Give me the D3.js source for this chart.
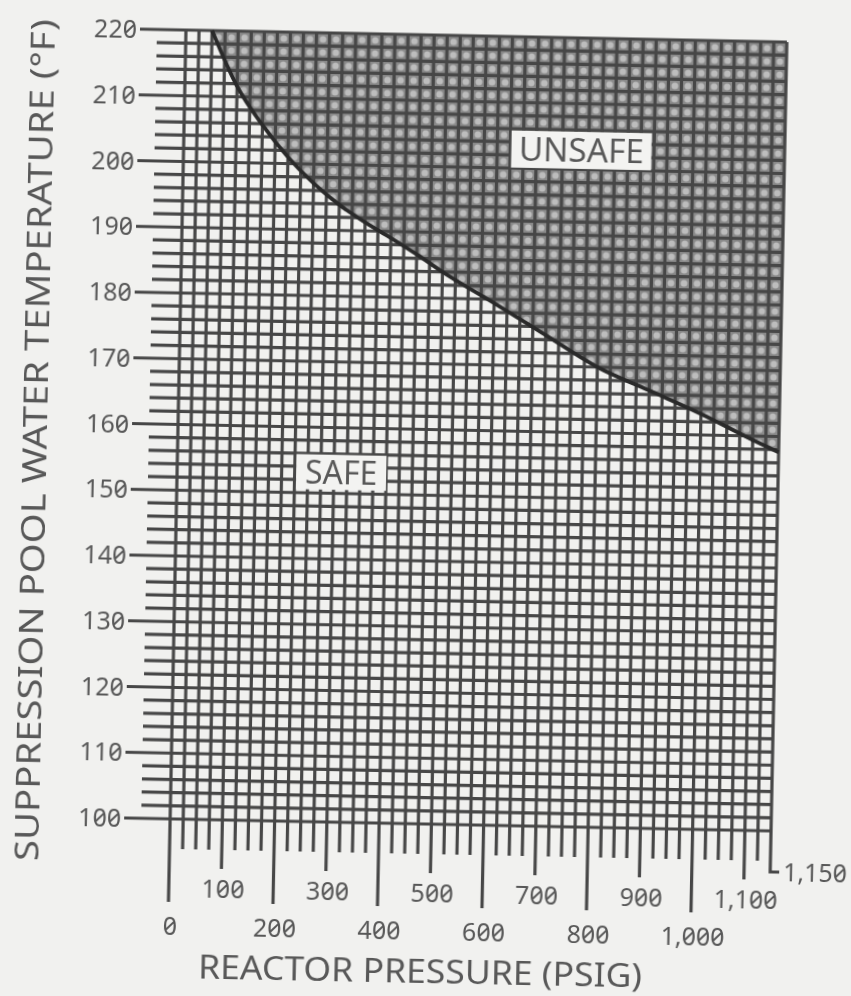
<!DOCTYPE html>
<html>
<head>
<meta charset="utf-8">
<script src="https://cdn.jsdelivr.net/npm/d3@7"></script>
<style>
  html, body { margin: 0; padding: 0; background: #f1f1ef; }
  svg { display: block; }
  text { font-family: "Noto Sans", Inter, sans-serif; font-feature-settings: "zero" 1; fill: #585858; }
</style>
</head>
<body>
<svg id="chart" width="851" height="996"></svg>
<script>
// Axis ticks
const pressureTicks = [0, 100, 200, 300, 400, 500, 600, 700, 800, 900, 1000, 1100];
const pressureEnd = 1150;
const tempTicks = [100, 110, 120, 130, 140, 150, 160, 170, 180, 190, 200, 210, 220];

// Heat capacity temperature limit: reactor pressure (psig) vs pool temperature (°F)
const limitPressure = [50, 100, 150, 200, 250, 300, 350, 400, 450, 500, 600, 700, 800, 900, 1000, 1100, 1150];
const limitTemp = [220, 211.6, 205.8, 201.0, 197.1, 193.9, 191.3, 189.0, 186.6, 184.0, 179.4, 174.7, 170.0, 166.6, 163.2, 159.4, 157.6];

// Region names
const regionNames = ["UNSAFE", "SAFE"];
const xTitle = "REACTOR PRESSURE (PSIG)";
const yTitle = "SUPPRESSION POOL WATER TEMPERATURE (°F)";

// ---- layout ----
const plot = { left: 178, top: 36, width: 601, height: 789 };
const bottom = plot.top + plot.height;
const x = d3.scaleLinear().domain([0, pressureEnd]).range([plot.left, plot.left + plot.width]);
const y = d3.scaleLinear().domain([100, 220]).range([bottom, plot.top]);

const pStep = 25, tStep = 2;
const gridColor = "#464646";
const gridWidth = 3.2;

const svg = d3.select("#chart");
svg.append("rect").attr("width", 851).attr("height", 996).attr("fill", "#f1f1ef");

const defs = svg.append("defs");
defs.append("filter").attr("id", "soft")
  .append("feGaussianBlur").attr("stdDeviation", 0.55);

const cellW = x(pStep) - x(0);
const cellH = y(220 - tStep) - y(220);
const pat = defs.append("pattern")
  .attr("id", "unsafeFill")
  .attr("patternUnits", "userSpaceOnUse")
  .attr("x", plot.left).attr("y", plot.top)
  .attr("width", cellW).attr("height", cellH);
pat.append("rect").attr("width", cellW).attr("height", cellH).attr("fill", "#8a8a8a");
pat.append("circle").attr("cx", cellW / 2).attr("cy", cellH / 2).attr("r", 3.3).attr("fill", "#bdbdbd");

const g = svg.append("g")
  .attr("transform", "rotate(1.15 478.75 430.25)")
  .attr("filter", "url(#soft)");

const limit = limitPressure.map((p, i) => ({ p, t: limitTemp[i] }));

// Unsafe region above the limit curve
const area = d3.area()
  .x(d => x(d.p))
  .y0(y(220))
  .y1(d => y(d.t))
  .curve(d3.curveMonotoneX);
g.append("path").datum(limit).attr("d", area).attr("fill", "url(#unsafeFill)");

// Horizontal grid lines, every 2 °F; the 10 °F lines reach further left
const hLines = d3.range(100, 220 + 0.001, tStep);
g.append("g").selectAll("line").data(hLines).join("line")
  .attr("x1", d => x(0) - (d % 10 === 0 ? 46 : 29))
  .attr("x2", x(pressureEnd))
  .attr("y1", d => y(d)).attr("y2", d => y(d))
  .attr("stroke", gridColor).attr("stroke-width", gridWidth);

// Vertical grid lines, every 25 psig, with ticks hanging below the grid
const vLines = d3.range(0, pressureEnd - 0.001, pStep);
const tickLen = d => (d % 200 === 0 ? 83 : d % 100 === 0 ? 49 : 30);
g.append("g").selectAll("line").data(vLines).join("line")
  .attr("x1", d => x(d)).attr("x2", d => x(d))
  .attr("y1", y(220))
  .attr("y2", d => bottom + tickLen(d))
  .attr("stroke", gridColor).attr("stroke-width", gridWidth);

// Right edge with its hooked end tick
g.append("path")
  .attr("d", `M${x(pressureEnd)},${y(220)}V${bottom + 41}h9`)
  .attr("fill", "none").attr("stroke", gridColor).attr("stroke-width", gridWidth);

// Limit curve
const line = d3.line().x(d => x(d.p)).y(d => y(d.t)).curve(d3.curveMonotoneX);
g.append("path").datum(limit).attr("d", line)
  .attr("fill", "none").attr("stroke", "#2a2a2a").attr("stroke-width", 3.8);

// Temperature labels
const fmt = d3.format(",");
g.append("g").selectAll("text").data(tempTicks).join("text")
  .attr("x", x(0) - 49).attr("y", d => y(d)).attr("dy", "0.36em")
  .attr("text-anchor", "end").attr("font-size", 25)
  .text(d => fmt(d));

// Pressure labels, staggered on two rows
g.append("g").selectAll("text").data(pressureTicks).join("text")
  .attr("x", d => x(d) + 2)
  .attr("y", d => bottom + (d % 200 === 0 ? 116 : 78))
  .attr("text-anchor", "middle").attr("font-size", 25)
  .text(d => fmt(d));
g.append("text")
  .attr("x", x(pressureEnd) + 13).attr("y", bottom + 41).attr("dy", "0.36em")
  .attr("font-size", 25).text(fmt(pressureEnd));

// Region labels on blank boxes
const regionAnchors = [
  { p: 761, t: 202.9, w: 140, h: 37, tl: 125 },
  { p: 314, t: 153.2, w: 90, h: 35, tl: 72 }
];
regionNames.forEach((name, i) => {
  const a = regionAnchors[i];
  const lg = g.append("g").attr("transform", `translate(${x(a.p)},${y(a.t)})`);
  lg.append("rect").attr("x", -a.w / 2).attr("y", -a.h / 2).attr("width", a.w).attr("height", a.h)
    .attr("fill", "#f3f3f1");
  lg.append("text").attr("text-anchor", "middle").attr("y", 12)
    .attr("font-size", 32).attr("textLength", a.tl).attr("lengthAdjust", "spacingAndGlyphs")
    .text(name);
});

// Axis titles
g.append("text")
  .attr("x", 431).attr("y", 983.5)
  .attr("text-anchor", "middle").attr("font-size", 33)
  .attr("textLength", 444).attr("lengthAdjust", "spacingAndGlyphs")
  .text(xTitle);
g.append("text")
  .attr("transform", "translate(47,449) rotate(-90)")
  .attr("text-anchor", "middle").attr("font-size", 33)
  .attr("textLength", 842).attr("lengthAdjust", "spacingAndGlyphs")
  .text(yTitle);
</script>
</body>
</html>
